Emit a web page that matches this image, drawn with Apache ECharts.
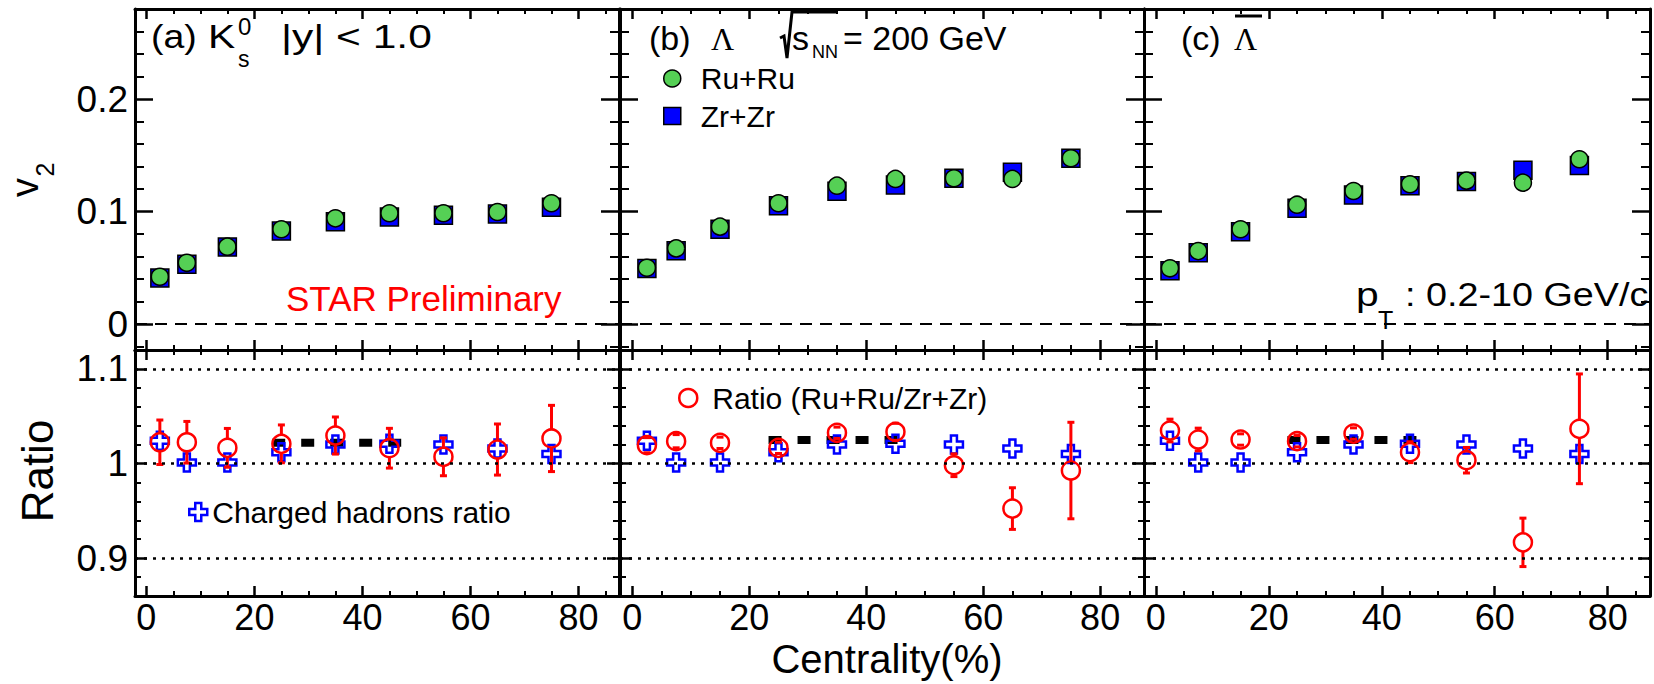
<!DOCTYPE html>
<html><head><meta charset="utf-8">
<script src="https://cdn.jsdelivr.net/npm/echarts@6/dist/echarts.min.js"></script>
<style>html,body{margin:0;padding:0;background:#fff}#c{width:1654px;height:684px}</style>
</head><body><div id="c"></div>
<script>
// ---------------- data ----------------
const centrality = [2.5, 7.5, 15, 25, 35, 45, 55, 65, 75];
const xTickLabels = [0, 20, 40, 60, 80];
const v2TickLabels = [0, 0.1, 0.2];
const ratioTickLabels = [0.9, 1.0, 1.1];

const ruK0s  = [0.0421, 0.0545, 0.0688, 0.0843, 0.0940, 0.0985, 0.0985, 0.0996, 0.1074];
const zrK0s  = [0.0410, 0.0532, 0.0685, 0.0827, 0.0910, 0.0952, 0.0967, 0.0979, 0.1038];
const ruLam  = [0.0501, 0.0673, 0.0866, 0.1074, 0.1230, 0.1290, 0.1296, 0.1290, 0.1474];
const zrLam  = [0.0494, 0.0652, 0.0843, 0.1052, 0.1180, 0.1237, 0.1296, 0.1350, 0.1474];
const ruALam = [0.0496, 0.0649, 0.0843, 0.1061, 0.1183, 0.1243, 0.1275, 0.1257, 0.1465];
const zrALam = [0.0474, 0.0634, 0.0821, 0.1029, 0.1148, 0.1230, 0.1268, 0.1367, 0.1410];

const ratioK0s     = [1.0225, 1.0225, 1.0166, 1.0208, 1.0296, 1.0162, 1.0071, 1.0148, 1.0265];
const ratioErrK0s  = [0.0235, 0.0220, 0.0205, 0.0200, 0.0196, 0.0210, 0.0200, 0.0270, 0.0350];
const ratioLam     = [1.0194, 1.0236, 1.0219, 1.0166, 1.0325, 1.0335, 0.9982, 0.9524, 0.9926];
const ratioErrLam  = [0.0080, 0.0070, 0.0060, 0.0060, 0.0060, 0.0090, 0.0120, 0.0220, 0.0510];
const ratioALam    = [1.0349, 1.0254, 1.0254, 1.0236, 1.0317, 1.0120, 1.0035, 0.9167, 1.0367];
const ratioErrALam = [0.0120, 0.0120, 0.0060, 0.0060, 0.0060, 0.0110, 0.0135, 0.0256, 0.0580];
const chargedHadronRatio = [1.024, 1.001, 1.001, 1.012, 1.020, 1.021, 1.020, 1.016, 1.010];

const bandLevel = [1.022, 1.025, 1.025];
const bandRange = [23.3, 47.5];

const ruSets = [ruK0s, ruLam, ruALam];
const zrSets = [zrK0s, zrLam, zrALam];
const ratioSets = [ratioK0s, ratioLam, ratioALam];
const ratioErrSets = [ratioErrK0s, ratioErrLam, ratioErrALam];

// ---------------- layout / style ----------------
const FONT = '"Liberation Sans", Arial, Helvetica, sans-serif';
const SERIF = '"Liberation Serif", "DejaVu Serif", serif';
const PL = [135, 620, 1144];
const PW = [484, 524, 506];
const TOP_Y = 9, MID_Y = 350, BOT_Y = 596;
const GREEN = '#55d055', BLUE = '#0000ff', RED = '#ff0000';
const CROSS = 'path://M6,0H12V6H18V12H12V18H6V12H0V6H6Z';

const grids = [], xAxes = [], yAxes = [], series = [];

function xAxisDef(g, pos, labels) {
  return {
    type: 'value', gridIndex: g, position: pos, min: -2.1, max: 87.5, splitNumber: 5,
    axisLine: {show: true, onZero: false, lineStyle: {color: '#000', width: 3}},
    axisTick: {show: true, inside: true, length: 10, lineStyle: {color: '#000', width: 2.5}},
    minorTick: {show: true, splitNumber: 4, length: 5, lineStyle: {color: '#000', width: 2}},
    splitLine: {show: false}, minorSplitLine: {show: false},
    axisLabel: labels ? {show: true, customValues: xTickLabels, margin: 3, color: '#000',
      fontFamily: FONT, fontSize: 36} : {show: false}
  };
}
function yAxisDef(g, pos, row, labels) {
  const top = row === 0;
  return {
    type: 'value', gridIndex: g, position: pos,
    min: top ? -0.023 : 0.86, max: top ? 0.28 : 1.12, splitNumber: 3,
    axisLine: {show: true, onZero: false, lineStyle: {color: '#000', width: 3}},
    axisTick: {show: true, inside: true, length: top ? 18 : 12, lineStyle: {color: '#000', width: 2.5}},
    minorTick: {show: true, splitNumber: 5, length: top ? 9 : 6, lineStyle: {color: '#000', width: 2}},
    splitLine: {show: false}, minorSplitLine: {show: false},
    axisLabel: labels ? {show: true, customValues: top ? v2TickLabels : ratioTickLabels, margin: 7,
      color: '#000', fontFamily: FONT, fontSize: 37} : {show: false}
  };
}

for (let p = 0; p < 3; p++) {
  for (let row = 0; row < 2; row++) {
    const g = p * 2 + row;
    grids.push({left: PL[p], width: PW[p], top: row ? MID_Y : TOP_Y,
      height: row ? BOT_Y - MID_Y : MID_Y - TOP_Y, outerBoundsMode: 'none', containLabel: false});
    xAxes.push(xAxisDef(g, 'bottom', row === 1));
    xAxes.push(xAxisDef(g, 'top', false));
    yAxes.push(yAxisDef(g, 'left', row, p === 0));
    yAxes.push(yAxisDef(g, 'right', row, false));
    const xi = 2 * g, yi = 2 * g;
    if (row === 0) {
      series.push({
        type: 'scatter', name: 'Zr+Zr', xAxisIndex: xi, yAxisIndex: yi, z: 2,
        symbol: 'rect', symbolSize: 18, emphasis: {disabled: true},
        itemStyle: {color: BLUE, borderColor: '#000', borderWidth: 1.5, opacity: 1},
        data: centrality.map((c, i) => [c, zrSets[p][i]]),
        markLine: {silent: true, symbol: ['none', 'none'], label: {show: false},
          lineStyle: {color: '#000', width: 2, type: [12, 8]}, emphasis: {disabled: true},
          data: [{yAxis: 0}]}
      });
      series.push({
        type: 'scatter', name: 'Ru+Ru', xAxisIndex: xi, yAxisIndex: yi, z: 3,
        symbol: 'circle', symbolSize: 17, emphasis: {disabled: true},
        itemStyle: {color: GREEN, borderColor: '#000', borderWidth: 1.5, opacity: 1},
        data: centrality.map((c, i) => [c, ruSets[p][i]])
      });
    } else {
      series.push({
        type: 'line', name: 'band', xAxisIndex: xi, yAxisIndex: yi, z: 1,
        symbol: 'none', silent: true,
        lineStyle: {color: '#000', width: 8, type: [13, 16], cap: 'butt', opacity: 1},
        data: [[bandRange[0], bandLevel[p]], [bandRange[1], bandLevel[p]]],
        markLine: {silent: true, symbol: ['none', 'none'], label: {show: false},
          lineStyle: {color: '#000', width: 2.5, type: [3, 6]}, emphasis: {disabled: true},
          data: ratioTickLabels.map(v => ({yAxis: v}))}
      });
      series.push({
        type: 'scatter', name: 'Charged hadrons ratio', xAxisIndex: xi, yAxisIndex: yi, z: 2,
        symbol: CROSS, symbolSize: 18, emphasis: {disabled: true},
        itemStyle: {color: 'rgba(255,255,255,0)', borderColor: BLUE, borderWidth: 2.5, opacity: 1},
        data: centrality.map((c, i) => [c, chargedHadronRatio[i]])
      });
      series.push({
        type: 'custom', name: 'err', xAxisIndex: xi, yAxisIndex: yi, z: 3, silent: true,
        encode: {x: 0, y: 1},
        data: centrality.map((c, i) => [c, ratioSets[p][i], ratioErrSets[p][i]]),
        renderItem: function (params, api) {
          const x = api.value(0), y = api.value(1), e = api.value(2);
          const c = api.coord([x, y]);
          const hi = api.coord([x, y + e]);
          const lo = api.coord([x, y - e]);
          const r = 9;
          const ch = [];
          const st = {stroke: RED, lineWidth: 3};
          if (hi[1] < c[1] - r) ch.push({type: 'line', shape: {x1: c[0], y1: hi[1], x2: c[0], y2: c[1] - r}, style: st});
          if (lo[1] > c[1] + r) ch.push({type: 'line', shape: {x1: c[0], y1: c[1] + r, x2: c[0], y2: lo[1]}, style: st});
          ch.push({type: 'rect', shape: {x: c[0] - 3.5, y: hi[1] - 1.5, width: 7, height: 3}, style: {fill: RED}});
          ch.push({type: 'rect', shape: {x: c[0] - 3.5, y: lo[1] - 1.5, width: 7, height: 3}, style: {fill: RED}});
          return {type: 'group', children: ch};
        }
      });
      series.push({
        type: 'scatter', name: 'Ratio (Ru+Ru/Zr+Zr)', xAxisIndex: xi, yAxisIndex: yi, z: 4,
        symbol: 'circle', symbolSize: 18, emphasis: {disabled: true},
        itemStyle: {color: 'rgba(255,255,255,0)', borderColor: RED, borderWidth: 2.5, opacity: 1},
        data: centrality.map((c, i) => [c, ratioSets[p][i]])
      });
    }
  }
}

// ---------------- annotations ----------------
const K = 0.34;
function txt(str, x, baseline, size, opt) {
  opt = opt || {};
  return {
    type: 'text', x: x, y: baseline - K * size, z: 100, silent: true,
    scaleX: opt.sx || 1, scaleY: 1,
    style: {text: str, fill: opt.color || '#000',
      font: size + 'px ' + (opt.family || FONT),
      textAlign: opt.align || 'left', textVerticalAlign: 'middle'}
  };
}
function rot(str, x, y, size) {
  return {type: 'text', x: x, y: y, rotation: Math.PI / 2, z: 100, silent: true,
    style: {text: str, fill: '#000', font: size + 'px ' + FONT, textAlign: 'center', textVerticalAlign: 'middle'}};
}
const graphics = [
  txt('(a)', 151, 48, 34, {sx: 1.1}),
  txt('K', 208, 48, 34, {sx: 1.2}),
  {type: 'text', x: 238, y: 26, z: 100, silent: true, style: {text: '0', font: '24px ' + FONT, fill: '#000', textAlign: 'left', textVerticalAlign: 'middle'}},
  txt('s', 238, 67, 23),
  txt('|y| < 1.0', 281, 48, 34, {sx: 1.25}),
  txt('(b)', 649, 50, 34),
  txt('\u039B', 711, 50, 32, {family: SERIF}),
  {type: 'polyline', z: 100, silent: true, shape: {points: [[780, 38], [784, 36], [787, 58], [792, 12], [837, 12]]}, style: {stroke: '#000', lineWidth: 3, fill: null}},
  txt('s', 792, 50, 34),
  txt('NN', 812, 58, 18),
  txt('= 200 GeV', 843, 50, 34),
  txt('(c)', 1181, 50, 34),
  txt('\u039B', 1234, 50, 32, {family: SERIF}),
  {type: 'line', z: 100, silent: true, shape: {x1: 1235, y1: 16, x2: 1262, y2: 16}, style: {stroke: '#000', lineWidth: 3}},
  txt('p', 1356, 306, 34, {sx: 1.2}),
  txt('T', 1378, 328, 25),
  txt(': 0.2-10 GeV/c', 1405, 306, 34, {sx: 1.11}),
  txt('STAR Preliminary', 286, 310, 35, {color: RED}),
  txt('Centrality(%)', 887, 673, 40, {align: 'center'}),
  rot('v', 25, 187.5, 38),
  rot('2', 45, 169.5, 25),
  rot('Ratio', 37, 471, 44)
];

const legendText = {fontFamily: FONT, color: '#000'};
const option = {
  animation: false,
  backgroundColor: '#fff',
  grid: grids, xAxis: xAxes, yAxis: yAxes, series: series,
  legend: [
    {data: ['Ru+Ru', 'Zr+Zr'], orient: 'vertical', left: 663, top: 63.5, padding: 0, itemGap: 7.5,
      itemWidth: 17, itemHeight: 17, selectedMode: false,
      itemStyle: {borderWidth: 1.5, borderColor: '#000', opacity: 1},
      textStyle: Object.assign({fontSize: 30, padding: [0, 0, 0, 15]}, legendText)},
    {data: ['Ratio (Ru+Ru/Zr+Zr)'], orient: 'vertical', left: 678, top: 383, padding: 0,
      itemWidth: 18, itemHeight: 18, selectedMode: false,
      itemStyle: {borderWidth: 2.5, borderColor: RED},
      textStyle: Object.assign({fontSize: 30, padding: [0, 0, 0, 10]}, legendText)},
    {data: ['Charged hadrons ratio'], orient: 'vertical', left: 188, top: 497, padding: 0,
      itemWidth: 18, itemHeight: 18, selectedMode: false,
      itemStyle: {borderWidth: 2.5, borderColor: BLUE},
      textStyle: Object.assign({fontSize: 30}, legendText)}
  ],
  graphic: graphics
};
const chart = echarts.init(document.getElementById('c'), null, {renderer: 'svg', width: 1654, height: 684});
chart.setOption(option);
</script>
</body></html>
